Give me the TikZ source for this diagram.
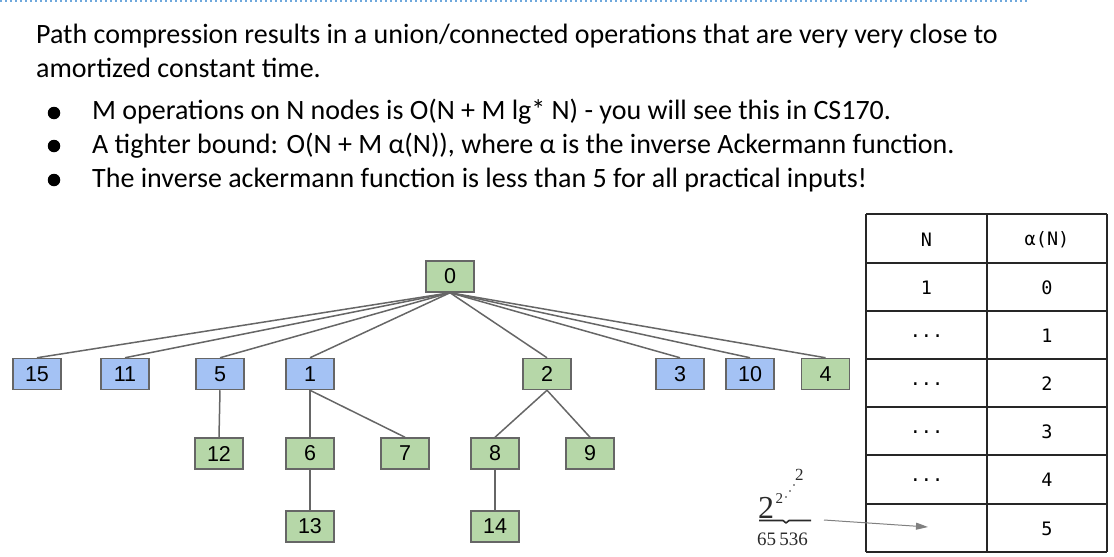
\documentclass[tikz,border=0pt]{standalone}
\usepackage{fontspec}
\setmainfont{Carlito}
\newfontfamily\nodefont{Liberation Sans}
\newfontfamily\tabfont{DejaVu Sans Mono}
\newfontfamily\towerfont{Liberation Serif}
\usetikzlibrary{arrows.meta}
\definecolor{nblue}{HTML}{A4C2F4}
\definecolor{ngreen}{HTML}{B6D7A8}
\definecolor{edgegray}{HTML}{666666}
\definecolor{dotblue}{HTML}{6FA8DC}
\definecolor{towerink}{HTML}{2A2A2A}
\tikzset{
  tnode/.style={draw=edgegray, line width=1.5pt, minimum width=48pt, minimum height=31pt,
    inner sep=0pt, font=\nodefont\fontsize{21.5}{21.5}\selectfont},
  bnode/.style={tnode, fill=nblue},
  gnode/.style={tnode, fill=ngreen},
  tedge/.style={draw=edgegray, line width=1.5pt},
  bodytext/.style={anchor=base west, inner sep=0pt, font=\fontsize{28}{32}\selectfont},
  bulletdot/.style={circle, fill=black, inner sep=0pt, minimum size=12.5pt},
  tabtext/.style={inner sep=0pt, font=\tabfont\fontsize{18.5}{18.5}\selectfont},
  gridline/.style={draw=black!85, line width=1.3pt},
  towertext/.style={inner sep=0pt, anchor=base west, text=towerink},
}
\begin{document}
\begin{tikzpicture}[x=1pt, y=-1pt]
\useasboundingbox (0,0) rectangle (1114,557);
% top dotted line
\draw[dotblue, line width=1.3pt, dash pattern=on 1.5pt off 3.5pt] (0,1) -- (1027,1);
% text
\node[bodytext] (t1) at (36,43) {Path compression results in a union/connected operations that are very very close to};
\node[bodytext] (t2) at (36,77) {amortized constant time.};
\node[bulletdot] (b1) at (54,113) {};
\node[bulletdot] (b2) at (54,146) {};
\node[bulletdot] (b3) at (54,180) {};
\node[bodytext] (l1) at (92,119) {M operations on N nodes is O(N + M lg* N) - you will see this in CS170.};
\node[bodytext] (l2) at (92,153) {A tighter bound: O(N + M α(N)), where α is the inverse Ackermann function.};
\node[bodytext] (l3) at (92,187) {The inverse ackermann function is less than 5 for all practical inputs!};
% tree nodes
\node[gnode] (n0) at (450,276.5) {0};
\node[bnode] (n15) at (37,374) {15};
\node[bnode] (n11) at (125,374) {11};
\node[bnode] (n5) at (220,374) {5};
\node[bnode] (n1) at (310,374) {1};
\node[gnode] (n2) at (547,374) {2};
\node[bnode] (n3) at (680,374) {3};
\node[bnode] (n10) at (750,374) {10};
\node[gnode] (n4) at (825.5,374) {4};
\node[gnode] (n12) at (219,453.5) {12};
\node[gnode] (n6) at (310,453.5) {6};
\node[gnode] (n7) at (405,453.5) {7};
\node[gnode] (n8) at (495,453.5) {8};
\node[gnode] (n9) at (590,453.5) {9};
\node[gnode] (n13) at (310,526.5) {13};
\node[gnode] (n14) at (495,526.5) {14};
% edges
\foreach \c in {n15,n11,n5,n1,n2,n3,n10,n4}
  \draw[tedge] (n0.south) -- (\c.north);
\draw[tedge] (n5.south) -- (n12.north);
\draw[tedge] (n1.south) -- (n6.north);
\draw[tedge] (n1.south) -- (n7.north);
\draw[tedge] (n6.south) -- (n13.north);
\draw[tedge] (n2.south) -- (n8.north);
\draw[tedge] (n2.south) -- (n9.north);
\draw[tedge] (n8.south) -- (n14.north);
% table grid
\foreach \yy in {214,263,311,359,407,455,504,552}
  \draw[gridline] (866,\yy) -- (1107,\yy);
\foreach \xx in {866,987,1107}
  \draw[gridline] (\xx,214) -- (\xx,552);
\node[tabtext] (hN) at (926.5,240) {N};
\node[tabtext] (hA) at (1047,240) {α(N)};
\node[tabtext] (r1a) at (926.5,288) {1};
\node[tabtext] (r1b) at (1047,288) {0};
\node[tabtext] (r2a) at (926.5,336) {...};
\node[tabtext] (r2b) at (1047,336) {1};
\node[tabtext] (r3a) at (926.5,384) {...};
\node[tabtext] (r3b) at (1047,384) {2};
\node[tabtext] (r4a) at (926.5,432) {...};
\node[tabtext] (r4b) at (1047,432) {3};
\node[tabtext] (r5a) at (926.5,480) {...};
\node[tabtext] (r5b) at (1047,480) {4};
\node[tabtext] (r6b) at (1047,529) {5};
\coordinate (target) at (928,527);
% power tower 2^2^...^2 with 65 536 twos
\node[towertext, font=\towerfont\fontsize{32}{32}\selectfont] (tb) at (758,518) {2};
\node[towertext, font=\towerfont\fontsize{15}{15}\selectfont] (ts) at (775.5,503.5) {2};
\node[towertext, font=\towerfont\fontsize{17}{17}\selectfont] (tt) at (795,480) {2};
\fill[towerink] (786,497) circle (0.9pt) (790,491) circle (0.9pt) (794,485) circle (0.9pt);
\draw[towerink, line width=1.6pt, line join=round]
  (759,520.5) -- (783,520.5) -- (786,523) -- (789,520.5) -- (811,520.5);
\node[towertext, font=\towerfont\fontsize{19}{19}\selectfont] (tn) at (757,545) {65\,536};
\coordinate (tower) at (824,520);
\draw[draw=gray, line width=1pt, -{Triangle[length=12pt,width=7pt]}] (tower) -- (target);
\end{tikzpicture}
\end{document}
